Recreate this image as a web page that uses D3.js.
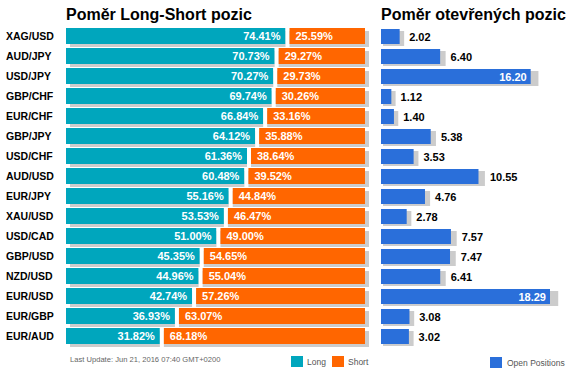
<!DOCTYPE html>
<html>
<head>
<meta charset="utf-8">
<script src="https://cdn.jsdelivr.net/npm/d3@7"></script>
<style>
  body { margin: 0; background: #fff; }
  svg { font-family: "Liberation Sans", Arial, sans-serif; display: block; }
</style>
</head>
<body>
<div id="chart"></div>
<script>
// data
var pairs = ["XAG/USD", "AUD/JPY", "USD/JPY", "GBP/CHF", "EUR/CHF", "GBP/JPY", "USD/CHF", "AUD/USD",
    "EUR/JPY", "XAU/USD", "USD/CAD", "GBP/USD", "NZD/USD", "EUR/USD", "EUR/GBP", "EUR/AUD"];
var longPct = [74.41, 70.73, 70.27, 69.74, 66.84, 64.12, 61.36, 60.48, 55.16, 53.53, 51.00, 45.35, 44.96, 42.74, 36.93, 31.82];
var shortPct = [25.59, 29.27, 29.73, 30.26, 33.16, 35.88, 38.64, 39.52, 44.84, 46.47, 49.00, 54.65, 55.04, 57.26, 63.07, 68.18];
var openPos = [2.02, 6.40, 16.20, 1.12, 1.40, 5.38, 3.53, 10.55, 4.76, 2.78, 7.57, 7.47, 6.41, 18.29, 3.08, 3.02];
var legendLS = ["Long", "Short"];
var legendOP = ["Open Positions"];

var rows = pairs.map(function(p, i) {
    return {pair: p, long: longPct[i], short: shortPct[i], open: openPos[i]};
});

var width = 574, height = 376;
var colLong = "#00a6bd", colShort = "#ff6600", colOpen = "#2a6fda", colShadow = "#cccccc";
var gap = 4;

var svg = d3.select("#chart").append("svg")
    .attr("width", width)
    .attr("height", height);

//Scales
var y = d3.scaleBand()
    .domain(pairs)
    .range([26, 346])
    .paddingInner(0.2)
    .paddingOuter(0.1);

var xLS = d3.scaleLinear().domain([0, 100]).range([0, 295]);
var x0 = 66;

var xOP = d3.scaleLinear().domain([0, 20]).range([0, 184.8]);
var x1 = 381;

//Titles
svg.append("text")
    .attr("x", x0).attr("y", 20)
    .style("font-size", "16px").style("font-weight", "bold")
    .text("Poměr Long-Short pozic");

svg.append("text")
    .attr("x", x1).attr("y", 20)
    .style("font-size", "16px").style("font-weight", "bold")
    .text("Poměr otevřených pozic");

//Pair labels
svg.selectAll(".pair")
    .data(rows)
    .enter().append("text")
    .attr("class", "pair")
    .attr("x", 6)
    .attr("y", function(d) { return y(d.pair) + y.bandwidth() / 2 + 4; })
    .style("font-size", "10.5px").style("font-weight", "bold")
    .text(function(d) { return d.pair; });

//Long-short bars
var ls = svg.append("g").attr("class", "ls");

ls.selectAll(".shadow")
    .data(rows)
    .enter().append("rect")
    .attr("class", "shadow")
    .attr("x", x0 + 4)
    .attr("y", function(d) { return y(d.pair) + 3; })
    .attr("width", xLS(100) + gap)
    .attr("height", y.bandwidth())
    .style("fill", colShadow);

ls.selectAll(".long")
    .data(rows)
    .enter().append("rect")
    .attr("class", "long")
    .attr("x", x0)
    .attr("y", function(d) { return y(d.pair); })
    .attr("width", function(d) { return xLS(d.long); })
    .attr("height", y.bandwidth())
    .style("fill", colLong);

ls.selectAll(".sep")
    .data(rows)
    .enter().append("rect")
    .attr("class", "sep")
    .attr("x", function(d) { return x0 + xLS(d.long); })
    .attr("y", function(d) { return y(d.pair); })
    .attr("width", gap)
    .attr("height", y.bandwidth() + 3)
    .style("fill", "#fff");

ls.selectAll(".short")
    .data(rows)
    .enter().append("rect")
    .attr("class", "short")
    .attr("x", function(d) { return x0 + xLS(d.long) + gap; })
    .attr("y", function(d) { return y(d.pair); })
    .attr("width", function(d) { return xLS(d.short); })
    .attr("height", y.bandwidth())
    .style("fill", colShort);

ls.selectAll(".longLbl")
    .data(rows)
    .enter().append("text")
    .attr("class", "longLbl")
    .attr("x", function(d) { return x0 + xLS(d.long) - 5; })
    .attr("y", function(d) { return y(d.pair) + y.bandwidth() / 2 + 4; })
    .attr("text-anchor", "end")
    .style("fill", "#fff").style("font-size", "11px").style("font-weight", "bold")
    .text(function(d) { return d.long.toFixed(2) + "%"; });

ls.selectAll(".shortLbl")
    .data(rows)
    .enter().append("text")
    .attr("class", "shortLbl")
    .attr("x", function(d) { return x0 + xLS(d.long) + gap + 6; })
    .attr("y", function(d) { return y(d.pair) + y.bandwidth() / 2 + 4; })
    .style("fill", "#fff").style("font-size", "11px").style("font-weight", "bold")
    .text(function(d) { return d.short.toFixed(2) + "%"; });

//Open positions bars
var op = svg.append("g").attr("class", "op");

function shadowW(d) {
    var w = xOP(d.open);
    return w * 1.025 + 2;
}

op.selectAll(".shadow")
    .data(rows)
    .enter().append("rect")
    .attr("class", "shadow")
    .attr("x", x1 + 2)
    .attr("y", function(d) { return y(d.pair) + 3; })
    .attr("width", shadowW)
    .attr("height", y.bandwidth() - 1)
    .style("fill", colShadow);

op.selectAll(".open")
    .data(rows)
    .enter().append("rect")
    .attr("class", "open")
    .attr("x", x1)
    .attr("y", function(d) { return y(d.pair) + 1; })
    .attr("width", function(d) { return xOP(d.open); })
    .attr("height", y.bandwidth() - 1)
    .style("fill", colOpen);

op.selectAll(".openLbl")
    .data(rows)
    .enter().append("text")
    .attr("class", "openLbl")
    .attr("x", function(d) {
        var w = xOP(d.open);
        return w > 120 ? x1 + w - 4 : x1 + 2 + shadowW(d) + 5;
    })
    .attr("y", function(d) { return y(d.pair) + y.bandwidth() / 2 + 5; })
    .attr("text-anchor", function(d) { return xOP(d.open) > 120 ? "end" : "start"; })
    .style("fill", function(d) { return xOP(d.open) > 120 ? "#fff" : "#000"; })
    .style("font-size", "11px").style("font-weight", "bold")
    .text(function(d) { return d.open.toFixed(2); });

//Footer
svg.append("text")
    .attr("x", 70).attr("y", 362)
    .style("fill", "#666").style("font-size", "7.6px")
    .text("Last Update: Jun 21, 2016 07:40 GMT+0200");

//Legends
var legLS = svg.selectAll(".legLS")
    .data(legendLS)
    .enter().append("g")
    .attr("class", "legLS")
    .attr("transform", function(d, i) { return "translate(" + (291 + i * 41) + ",356)"; });
legLS.append("rect")
    .attr("width", 12).attr("height", 11)
    .style("fill", function(d, i) { return i === 0 ? colLong : colShort; });
legLS.append("text")
    .attr("x", 16).attr("y", 9)
    .style("fill", "#555").style("font-size", "8.5px")
    .text(function(d) { return d; });

var legOP = svg.selectAll(".legOP")
    .data(legendOP)
    .enter().append("g")
    .attr("class", "legOP")
    .attr("transform", "translate(490,357)");
legOP.append("rect")
    .attr("width", 12).attr("height", 11)
    .style("fill", colOpen);
legOP.append("text")
    .attr("x", 17).attr("y", 9)
    .style("fill", "#555").style("font-size", "8.5px")
    .text(function(d) { return d; });
</script>
</body>
</html>
